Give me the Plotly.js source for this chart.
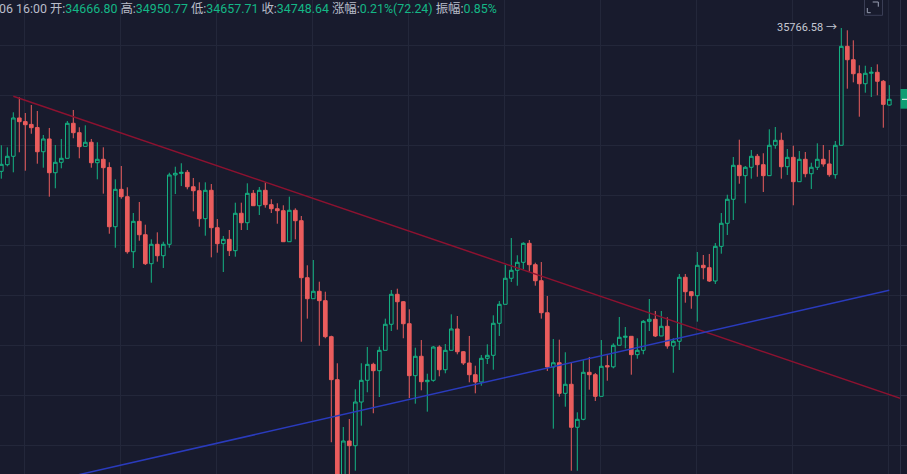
<!DOCTYPE html>
<html><head><meta charset="utf-8">
<script src="https://cdn.plot.ly/plotly-3.0.1.min.js"></script>
<style>html,body{margin:0;padding:0;background:#181b2d;overflow:hidden}#chart{width:907px;height:474px}</style>
</head><body><div id="chart"></div>
<script>
// ---- data ----
const openP = [33720,33815,33935,34482,34430,34390,34345,34000,34182,33700,
33849,33906,34406,34272,34077,34135,33843,33892,33775,32929,
33463,33358,32572,33006,32815,32401,32678,32515,32678,33668,
33690,33706,33500,33443,33044,33449,32915,32687,32749,32587,
33121,32986,33406,33229,33449,33244,33186,33158,32715,33164,
33015,32201,31901,32007,31873,31359,30745,29241,29869,29802,
30426,30736,30964,30873,31164,31536,31964,31858,31544,30802,
31079,30716,30736,31211,30887,31164,31469,31144,30983,30816,
30712,31050,31093,31550,31821,32193,32307,32421,32692,32387,
32158,31701,30926,30987,30550,30679,30065,30179,30850,30816,
30507,30945,30928,31236,31350,31364,31102,31164,31578,31607,
31369,31507,31226,31293,32207,32001,31944,32378,32344,32154,
32649,32978,33321,33806,33658,33778,33935,33815,33658,34092,
34163,33786,33920,33572,33892,33686,33778,33892,33825,33672,
34092,35505,35314,35114,34971,35120,35134,35006,34666.80];
const highP = [34092,34063,34563,34777,34553,34667,34582,34239,34339,34096,
34182,34439,34596,34349,34377,34182,34135,34063,33849,33606,
33796,33492,33125,33282,32958,32749,32849,32715,33700,33786,
33835,33739,33625,33563,33563,33539,33039,32797,32882,33272,
33272,33549,33453,33496,33563,33321,33264,33235,33358,33192,
33082,32378,32454,32144,32001,31373,30979,30069,30183,30607,
30979,31211,30987,31216,31616,32025,32044,31868,31750,31201,
31311,30830,31226,31236,31254,31678,31654,31154,31369,30944,
31097,31250,31664,31868,32382,32768,32521,32707,32739,32415,
32425,31940,31326,31316,31136,30983,30279,31022,31069,30840,
31311,31093,31264,31640,31497,31364,31336,31597,31897,31726,
31726,31636,31336,32254,32254,32007,32568,32525,32540,32697,
33125,33386,33925,34172,33796,34025,33968,33978,34320,34353,
34272,34039,34086,34010,33996,33843,34120,34096,34025,34153,
35766.58,35734,35591,35234,35228,35210,35248,35024,34950.77];
const lowP = [33615,33792,33706,33992,33729,34257,33829,33772,33358,33478,
33763,33906,34192,33906,34077,33772,33606,33401,32829,32629,
33329,32544,32340,32729,32382,32130,32430,32340,32629,33396,
33510,33463,33149,32929,32801,32492,32558,32282,32511,32501,
32882,32882,33229,33096,33201,33125,32972,32715,32715,32749,
31287,31616,31901,31230,31336,29851,29098,29150,29330,29445,
30088,30565,30265,30497,31164,31440,31459,31336,30483,30402,
30593,30288,30716,30793,30836,31164,31107,30954,30707,30550,
30659,30969,30887,31369,31821,32140,32087,32321,32287,32087,
31616,30869,30045,30502,30359,29445,29445,30165,30602,30440,
30507,30730,30907,31236,31193,30816,31044,31107,31440,31354,
31369,31187,30844,31169,31844,31758,31573,32178,32140,32111,
32544,32811,33025,33543,33264,33615,33643,33425,33658,34043,
33615,33668,33235,33572,33635,33468,33739,33786,33643,33615,
34092,34900,34991,34500,34843,34781,34806,34343,34657.71];
const closeP = [33820,33935,34482,34429,34386,34343,34000,34182,33700,33849,
33906,34406,34272,34072,34135,33843,33892,33772,32929,33463,
33358,32572,33006,32815,32401,32678,32515,32678,33668,33692,
33706,33500,33443,33044,33449,32915,32687,32749,32587,33121,
32986,33406,33229,33449,33244,33186,33158,32715,33164,33015,
32201,31901,32007,31873,31359,30745,29241,29869,29802,30426,
30736,30964,30873,31164,31536,31964,31858,31544,30802,31079,
30716,30736,31211,30887,31164,31469,31144,30983,30816,30712,
31050,31093,31550,31821,32193,32307,32421,32692,32387,32158,
31701,30926,30987,30550,30679,30065,30179,30850,30816,30507,
30936,30928,31236,31350,31364,31102,31164,31578,31607,31369,
31507,31226,31293,32207,32001,31944,32378,32344,32154,32649,
32978,33321,33806,33658,33778,33935,33815,33658,34092,34163,
33786,33920,33572,33892,33686,33778,33892,33825,33672,34092,
35505,35314,35114,34971,35120,35134,35006,34676.40,34748.64];
const candleIndex = openP.map((_, i) => i);

// trend lines drawn on the chart (index, price)
const resistanceX = [2, 150.5];
const resistanceY = [34791, 30458];
const supportX = [10, 148];
const supportY = [29331, 32021];

// header texts
const headerTime = '06 16:00';
const headerLabels = ['开:', '高:', '低:', '收:', '涨幅:', '振幅:'];
const headerValues = ['34666.80', '34950.77', '34657.71', '34748.64', '0.21%(72.24)', '0.85%'];
const peakLabel = '35766.58 →';

// ---- styling ----
const BG = '#181b2d';
const GRID = '#23273a';
const UP = '#15b584';
const DOWN = '#ea5d5d';
const GRAY = '#b9bdc9';
const VAL = '#14b786';

const traces = [
  {type: 'candlestick', x: candleIndex, open: openP, high: highP, low: lowP, close: closeP,
   increasing: {line: {color: UP, width: 1}, fillcolor: BG},
   decreasing: {line: {color: DOWN, width: 1}, fillcolor: DOWN},
   whiskerwidth: 0, hoverinfo: 'skip', showlegend: false},
  {type: 'scatter', mode: 'lines', x: resistanceX, y: resistanceY,
   line: {color: '#8c1230', width: 1.5}, hoverinfo: 'skip', showlegend: false},
  {type: 'scatter', mode: 'lines', x: supportX, y: supportY,
   line: {color: '#2a3bbd', width: 1.5}, hoverinfo: 'skip', showlegend: false}
];

let header = '<span style="color:' + GRAY + '">' + headerTime + '</span>';
headerLabels.forEach((lab, i) => {
  header += ' <span style="color:' + GRAY + '">' + lab + '</span><span style="color:' + VAL + '">' + headerValues[i] + '</span>';
});

const peakIdx = highP.indexOf(Math.max(...highP));
const lastClose = closeP[closeP.length - 1];

const px = v => v / 900;           // paper x from pixels
const py = v => 1 - v / 474;        // paper y from pixels

const layout = {
  width: 907, height: 474,
  margin: {l: 0, r: 7, t: 0, b: 0, pad: 0},
  paper_bgcolor: BG, plot_bgcolor: BG,
  font: {family: "Roboto, 'Noto Sans CJK SC', sans-serif", color: GRAY, size: 12},
  showlegend: false,
  hovermode: false,
  dragmode: false,
  boxgap: 0.39, boxgroupgap: 0,
  xaxis: {
    range: [-0.2167, 149.7833], type: 'linear',
    showgrid: true, gridcolor: GRID, gridwidth: 1,
    tickmode: 'linear', tick0: 3.833, dtick: 16,
    showticklabels: false, ticks: '', zeroline: false, showline: false,
    rangeslider: {visible: false}, fixedrange: true
  },
  yaxis: {
    range: [29397.9, 36166.6], side: 'right',
    showgrid: true, gridcolor: GRID, gridwidth: 1,
    tickmode: 'linear', tick0: 35519.7, dtick: 714,
    showticklabels: false, ticks: 'outside', ticklen: 6, tickcolor: '#2c3146',
    showline: true, linecolor: '#2c3146', linewidth: 1,
    zeroline: false, fixedrange: true
  },
  annotations: [
    {xref: 'paper', yref: 'paper', x: px(-2), y: 1, xanchor: 'left', yanchor: 'top', yshift: 0,
     text: header, showarrow: false, font: {size: 12.4, color: GRAY}, borderpad: 0},
    {xref: 'x', yref: 'y', x: candleIndex[peakIdx], y: highP[peakIdx], xanchor: 'right', yanchor: 'middle',
     xshift: -2, yshift: 1, text: peakLabel, showarrow: false, font: {size: 11, color: '#c6c9d4'}}
  ],
  shapes: [
    {type: 'rect', xref: 'paper', yref: 'paper', x0: px(864.5), x1: px(882.5), y0: py(15.3), y1: py(-2),
     line: {color: '#3a3e55', width: 1}, fillcolor: 'rgba(0,0,0,0)'},
    {type: 'path', xref: 'paper', yref: 'paper',
     path: 'M ' + px(872.7) + ' ' + py(2) + ' L ' + px(878.3) + ' ' + py(2) + ' L ' + px(878.3) + ' ' + py(6.7),
     line: {color: '#9aa0b4', width: 1}},
    {type: 'path', xref: 'paper', yref: 'paper',
     path: 'M ' + px(867.3) + ' ' + py(8) + ' L ' + px(867.3) + ' ' + py(12.7) + ' L ' + px(870.7) + ' ' + py(12.7),
     line: {color: '#9aa0b4', width: 1}},
    {type: 'rect', xref: 'paper', yref: 'y', x0: px(900.5), x1: px(912), y0: lastClose - 134, y1: lastClose + 147,
     line: {width: 0}, fillcolor: '#0f9e73'},
    {type: 'line', xref: 'paper', yref: 'y', x0: px(902), x1: px(908), y0: lastClose, y1: lastClose,
     line: {color: '#ffffff', width: 1}}
  ]
};

Plotly.newPlot('chart', traces, layout, {staticPlot: true, displayModeBar: false});
</script>
</body></html>
